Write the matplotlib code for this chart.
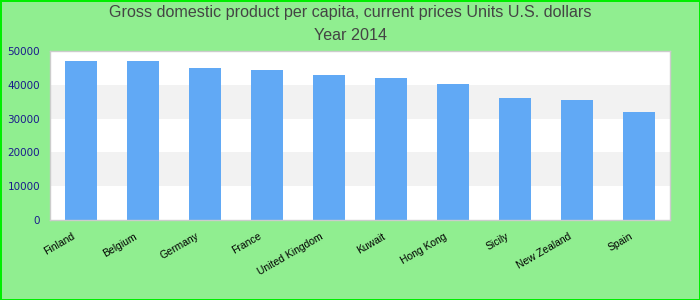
import matplotlib.pyplot as plt
import matplotlib.transforms as mtransforms

countries = ["Finland", "Belgium", "Germany", "France", "United Kingdom",
             "Kuwait", "Hong Kong", "Sicily", "New Zealand", "Spain"]
gdp = [47100, 47100, 45000, 44500, 43000, 42100, 40300, 36200, 35600, 32000]
yticks = [0, 10000, 20000, 30000, 40000, 50000]

fig = plt.figure(figsize=(7, 3), dpi=100)
fig.patch.set_facecolor("#90ee90")
fig.patch.set_edgecolor("#00ee00")
fig.patch.set_linewidth(2)

ax = fig.add_axes([50 / 700, 80 / 300, 620 / 700, 169 / 300])
ax.set_facecolor("white")

# alternating bands
for i in range(len(yticks) - 1):
    if i % 2 == 1:
        ax.axhspan(yticks[i], yticks[i + 1], color="#f2f2f2", zorder=0, lw=0)

xs = range(len(countries))
ax.bar(xs, gdp, width=0.52, color="#61a9f5", zorder=2)

ax.set_xlim(-0.5, len(countries) - 0.5)
ax.set_ylim(0, 50000)
ax.set_yticks(yticks)
ax.set_yticklabels([str(v) for v in yticks], color="#1a1a8c",
                   fontsize=7.5, family="DejaVu Sans")
ax.set_xticks(list(xs))
ax.set_xticklabels(countries, rotation=30, ha="right", rotation_mode="anchor",
                   fontsize=7.5, family="Liberation Sans", color="black")
ax.tick_params(axis="both", length=0)
ax.tick_params(axis="y", pad=7)
ax.tick_params(axis="x", pad=8)

shift = mtransforms.ScaledTranslation(-9 / 100, 0, fig.dpi_scale_trans)
for lbl in ax.get_xticklabels():
    lbl.set_transform(lbl.get_transform() + shift)

for s in ax.spines.values():
    s.set_color("#cccccc")
    s.set_linewidth(1)

fig.text(0.5, 1 - 13 / 300, "Gross domestic product per capita, current prices Units U.S. dollars",
         ha="center", va="center", fontsize=11.6, color="#444444", family="Liberation Sans")
fig.text(0.5, 1 - 36 / 300, "Year 2014",
         ha="center", va="center", fontsize=11.6, color="#444444", family="Liberation Sans")

fig.savefig("out.png", dpi=100, facecolor=fig.get_facecolor(), edgecolor=fig.get_edgecolor())
